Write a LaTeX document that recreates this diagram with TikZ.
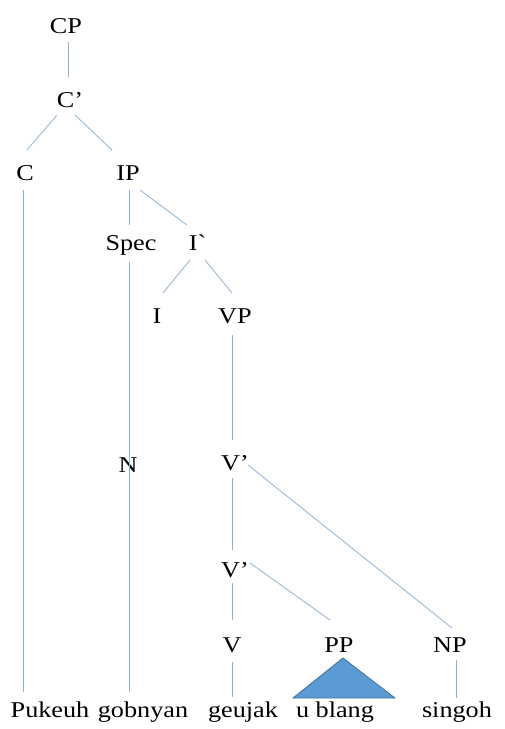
\documentclass[tikz,border=0pt]{standalone}
\usepackage{fontspec}
\setmainfont{Liberation Serif}[FakeStretch=1.16]
\usetikzlibrary{calc}
\definecolor{branch}{RGB}{143,178,212}
\definecolor{trifill}{RGB}{91,155,213}
\definecolor{triedge}{RGB}{65,113,156}
\begin{document}
\begin{tikzpicture}[x=1pt,y=-1pt,
  lbl/.style={anchor=base,inner sep=0pt,font=\fontsize{22.6}{27}\selectfont},
  br/.style={draw=branch,line width=0.8pt}]
\useasboundingbox (0,0) rectangle (505,729);
% category labels
\node[lbl] (CP) at (66,33) {CP};
\node[lbl] (Cbar) at (70,107) {C’};
\node[lbl] (C) at (25,180) {C};
\node[lbl] (IP) at (128,180) {IP};
\node[lbl] (Spec) at (131,250) {Spec};
\node[lbl] (Ibar) at (197,250) {I\textasciigrave};
\node[lbl] (I) at (157,323) {I};
\node[lbl] (VP) at (235,323) {VP};
\node[lbl] (N) at (128,472) {N};
\node[lbl] (Vbar1) at (235,470) {V’};
\node[lbl] (Vbar2) at (235,577) {V’};
\node[lbl] (V) at (232,652) {V};
\node[lbl] (PP) at (339,652) {PP};
\node[lbl] (NP) at (450,652) {NP};
% words
\node[lbl] (w1) at (50,717) {Pukeuh};
\node[lbl] (w2) at (143,717) {gobnyan};
\node[lbl] (w3) at (243,717) {geujak};
\node[lbl] (w4) at (335,717) {u blang};
\node[lbl] (w5) at (457,717) {singoh};
% branches
\draw[br] ($(CP.base)+(2,9)$) -- ($(Cbar.base)+(-2,-30)$);
\draw[br] ($(Cbar.base)+(-13,8)$) -- ($(C.base)+(2,-30)$);
\draw[br] ($(Cbar.base)+(5,8)$) -- ($(IP.base)+(-16,-30)$);
\draw[br] ($(C.base)+(-2,10)$) -- ($(w1.base)+(-27,-25)$);
\draw[br] ($(IP.base)+(1,10)$) -- ($(Spec.base)+(-2,-25)$);
\draw[br] ($(IP.base)+(12,10)$) -- ($(Ibar.base)+(-10,-25)$);
\draw[br] ($(Spec.base)+(-2,12)$) -- ($(w2.base)+(-14,-25)$);
\draw[br] ($(Ibar.base)+(-7,10)$) -- ($(I.base)+(6,-30)$);
\draw[br] ($(Ibar.base)+(8,10)$) -- ($(VP.base)+(-3,-30)$);
\draw[br] ($(VP.base)+(-3,12)$) -- ($(Vbar1.base)+(-3,-30)$);
\draw[br] ($(Vbar1.base)+(-3,8)$) -- ($(Vbar2.base)+(-3,-27)$);
\draw[br] ($(Vbar1.base)+(13,-5)$) -- ($(NP.base)+(2,-24)$);
\draw[br] ($(Vbar2.base)+(-3,6)$) -- ($(V.base)+(0,-32)$);
\draw[br] ($(Vbar2.base)+(15,-14)$) -- ($(PP.base)+(-9,-32)$);
\draw[br] ($(V.base)+(0,10)$) -- ($(w3.base)+(-11,-20)$);
\draw[br] ($(NP.base)+(6,8)$) -- ($(w5.base)+(-1,-19)$);
% triangle for PP
\draw[draw=triedge,fill=trifill,line width=0.8pt,line join=miter]
  ($(PP.base)+(4,6)$) -- ($(w4.base)+(-42,-19)$) -- ($(w4.base)+(60,-19)$) -- cycle;
\end{tikzpicture}
\end{document}
